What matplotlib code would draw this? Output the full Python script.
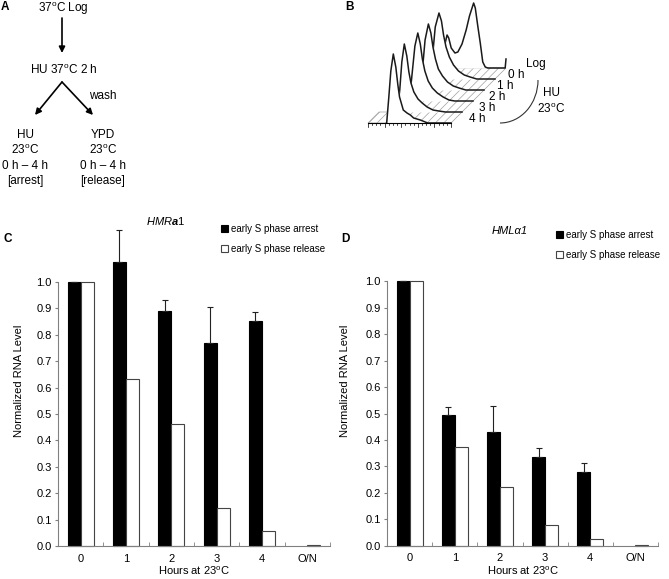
import numpy as np
import matplotlib
matplotlib.use('Agg')
import matplotlib.pyplot as plt
from matplotlib.patches import Polygon, Arc

plt.rcParams['font.family'] = ['Liberation Sans', 'DejaVu Sans']
plt.rcParams['mathtext.fontset'] = 'custom'
plt.rcParams['mathtext.rm'] = 'Liberation Sans'
plt.rcParams['mathtext.it'] = 'Liberation Sans:italic'
plt.rcParams['mathtext.bf'] = 'Liberation Sans:bold'
plt.rcParams['mathtext.bfit'] = 'Liberation Sans:italic:bold'
plt.rcParams['hatch.linewidth'] = 0.5

DEG = r'$^{\mathrm{o}}$'

# --- bar chart data (panels C and D) ---
hours = ['0', '1', '2', '3', '4', 'O/N']
hmr_arrest = [1.0, 1.074, 0.89, 0.769, 0.851, np.nan]
hmr_arrest_err = [0, 0.123, 0.043, 0.137, 0.034, 0]
hmr_release = [1.0, 0.631, 0.462, 0.143, 0.058, 0.005]
hml_arrest = [1.0, 0.494, 0.429, 0.337, 0.28, np.nan]
hml_arrest_err = [0, 0.029, 0.099, 0.034, 0.034, 0]
hml_release = [1.0, 0.374, 0.221, 0.077, 0.026, 0.004]

# --- FACS profiles for panel B (DNA content fraction, counts), back to front ---
facs_labels = ['Log', '0 h', '1 h', '2 h', '3 h', '4 h']
facs_ch = [
    [0.20, 0.24, 0.27, 0.29, 0.31, 0.34, 0.385, 0.42, 0.47, 0.52, 0.56, 0.61, 0.63, 0.66, 0.69, 0.72, 0.75, 0.78, 0.99, 1.0],
    [0.22, 0.25, 0.28, 0.325, 0.355, 0.38, 0.41, 0.45, 0.50, 0.56, 0.63, 0.70, 0.78, 1.0],
    [0.23, 0.26, 0.29, 0.33, 0.36, 0.385, 0.415, 0.45, 0.50, 0.56, 0.63, 0.70, 0.78, 1.0],
    [0.23, 0.26, 0.30, 0.335, 0.365, 0.39, 0.42, 0.46, 0.51, 0.57, 0.64, 0.71, 0.78, 1.0],
    [0.22, 0.25, 0.275, 0.305, 0.335, 0.36, 0.385, 0.42, 0.47, 0.52, 0.58, 0.65, 0.72, 0.80, 1.0],
    [0.225, 0.25, 0.275, 0.305, 0.335, 0.36, 0.38, 0.425, 0.47, 0.51, 0.55, 0.63, 0.72, 1.0],
]
facs_counts = [
    [0, 8, 26, 33, 30, 20, 15, 16, 24, 38, 52, 65, 60, 42, 25, 6, 1, 0, 0, 9],
    [0, 25, 52, 66, 58, 44, 32, 22, 14, 8, 4, 2, 0, 0],
    [0, 22, 50, 66, 57, 43, 31, 21, 14, 8, 4, 2, 0, 0],
    [0, 22, 55, 68, 57, 42, 30, 20, 13, 8, 4, 1, 0, 0],
    [0, 22, 50, 68, 56, 40, 29, 20, 13, 9, 5, 2, 1, 0, 0],
    [0, 25, 52, 69, 56, 38, 26, 13, 10, 8, 5, 3, 0, 0],
]

fig = plt.figure(figsize=(6.69, 5.79), dpi=100)

# overlay in pixel coordinates for panels A and B
ov = fig.add_axes([0, 0, 1, 1])
ov.set_xlim(0, 669)
ov.set_ylim(579, 0)
ov.axis('off')

for lab, x, y in [('A', 5, 7), ('B', 350, 7), ('C', 8, 239), ('D', 345, 239)]:
    ov.text(x, y, lab, fontsize=8.5, fontweight='bold', ha='center', va='center')

# ---- panel A: flow diagram ----
fs_a = 8.5
ov.text(63, 9, '37' + DEG + 'C Log', fontsize=fs_a, ha='center', va='center')
ov.text(64, 70, 'HU 37' + DEG + 'C 2 h', fontsize=fs_a, ha='center', va='center')
ov.text(103, 96, 'wash', fontsize=fs_a, ha='center', va='center')
arrow = dict(arrowstyle='-|>', lw=1.2, color='k', mutation_scale=9, shrinkA=0, shrinkB=0)
ov.annotate('', xy=(62, 53), xytext=(62, 18), arrowprops=arrow)
ov.annotate('', xy=(35, 115), xytext=(62, 82), arrowprops=arrow)
ov.annotate('', xy=(93, 115), xytext=(62, 82), arrowprops=arrow)
left_col = ['HU', '23' + DEG + 'C', '0 h \u2013 4 h', '[arrest]']
right_col = ['YPD', '23' + DEG + 'C', '0 h \u2013 4 h', '[release]']
for k, (l, r) in enumerate(zip(left_col, right_col)):
    y = 135 + 15.3 * k
    ov.text(25, y, l, fontsize=fs_a, ha='center', va='center')
    ov.text(103, y, r, fontsize=fs_a, ha='center', va='center')

# ---- panel B: stacked FACS profiles ----
x0, y0, W, step = 368, 123, 83, 11
n = len(facs_labels)
dmax = n - 1
floor = Polygon([(x0, y0), (x0 + W, y0),
                 (x0 + dmax * step + W, y0 - dmax * step),
                 (x0 + dmax * step + 0.3 * W, y0 - dmax * step),
                 (x0 + step + 0.3 * W, y0 - step),
                 (x0 + step, y0 - step)],
                closed=True, facecolor='white', edgecolor='#a0a0a0',
                hatch='////', lw=0.5, zorder=1)
ov.add_patch(floor)

lab_dx = [30, 21, 21, 24, 25, 26]
for j, (lab, ch, cnt) in enumerate(zip(facs_labels, facs_ch, facs_counts)):
    d = dmax - j
    ox, oy = x0 + d * step, y0 - d * step
    px = ox + np.array(ch) * W
    py = oy - np.array(cnt, dtype=float)
    ov.fill_between(px, oy, py, color='white', lw=0, zorder=2 + 2 * j)
    ov.plot(px, py, color='#1a1a1a', lw=1.1, zorder=3 + 2 * j)
    ov.text(ox + W + lab_dx[j], oy - 4, lab, fontsize=8.5, ha='center', va='center')

# ruler under front profile
ov.plot([x0, x0 + W], [y0, y0], color='k', lw=0.8, zorder=20)
for t in np.arange(0, 1.0001, 0.05):
    ln = 4 if abs(t * 5 - round(t * 5)) < 1e-6 else 2
    ov.plot([x0 + t * W] * 2, [y0, y0 + ln], color='k', lw=0.5, zorder=20)

ov.text(551, 93, 'HU', fontsize=8.5, ha='center', va='center')
ov.text(551, 109, '23' + DEG + 'C', fontsize=8.5, ha='center', va='center')
ov.add_patch(Arc((500, 80), 76, 86, theta1=0, theta2=90, lw=0.8, color='#333333'))

# titles of C and D
ov.text(166, 221, r'$\mathit{HMR}\mathbfit{a}\mathit{1}$', fontsize=8, ha='center', va='center')
ov.text(510, 231, 'HML\u03b11', fontsize=8, style='italic', ha='center', va='center')


# ---- panels C and D: bar charts ----
def bar_panel(rect, arrest, err, release, leg_xy, ylab_x):
    ax = fig.add_axes(rect)
    x = np.arange(len(hours))
    w = 0.287
    b1 = ax.bar(x - w, arrest, w, align='edge', color='black', edgecolor='black',
                lw=0.8, clip_on=False, label='early S phase arrest')
    b2 = ax.bar(x, release, w, align='edge', color='white', edgecolor='#444444',
                lw=0.8, clip_on=False, label='early S phase release')
    eb = ax.errorbar(x - w / 2, arrest, yerr=[np.zeros(len(err)), err], fmt='none',
                     ecolor='#222222', elinewidth=0.8, capsize=2, capthick=0.8)
    for art in list(eb.lines[1]) + list(eb.lines[2]):
        art.set_clip_on(False)
    ax.set_xlim(-0.5, len(hours) - 0.5)
    ax.set_ylim(0, 1.0)
    ax.set_yticks(np.arange(0, 1.01, 0.1))
    ax.set_yticklabels(['%.1f' % v for v in np.arange(0, 1.01, 0.1)])
    ax.set_xticks(x)
    ax.set_xticklabels(hours)
    ax.set_xticks(np.arange(0.5, len(hours)), minor=True)
    for s in ['top', 'right']:
        ax.spines[s].set_visible(False)
    for s in ['left', 'bottom']:
        ax.spines[s].set_color('#808080')
        ax.spines[s].set_linewidth(0.8)
    ax.tick_params(axis='x', which='major', length=0, pad=5.5, labelsize=8)
    ax.tick_params(axis='x', which='minor', direction='in', length=3, color='#808080')
    ax.tick_params(axis='y', length=2, pad=2.5, labelsize=8, color='#808080')
    ax.set_ylabel('Normalized RNA Level', fontsize=8)
    ax.yaxis.set_label_coords(ylab_x, 0.625)
    ax.set_xlabel('Hours at 23' + DEG + 'C', fontsize=8, labelpad=1)
    ax.legend(handles=[b1, b2], loc='upper left',
              bbox_to_anchor=(leg_xy[0] / 669, 1 - leg_xy[1] / 579),
              bbox_transform=fig.transFigure, frameon=False, fontsize=7,
              handlelength=0.75, handleheight=0.75, handletextpad=0.25,
              labelspacing=1.0, borderpad=0, borderaxespad=0)
    return ax


axc = bar_panel([58 / 669, 33 / 579, 272 / 669, 264 / 579], hmr_arrest, hmr_arrest_err,
                hmr_release, (221, 224), -0.125)
axd = bar_panel([387 / 669, 33.3 / 579, 271 / 669, 264.4 / 579], hml_arrest, hml_arrest_err,
                hml_release, (556, 230), -0.135)

fig.savefig('out.png', dpi=100)
